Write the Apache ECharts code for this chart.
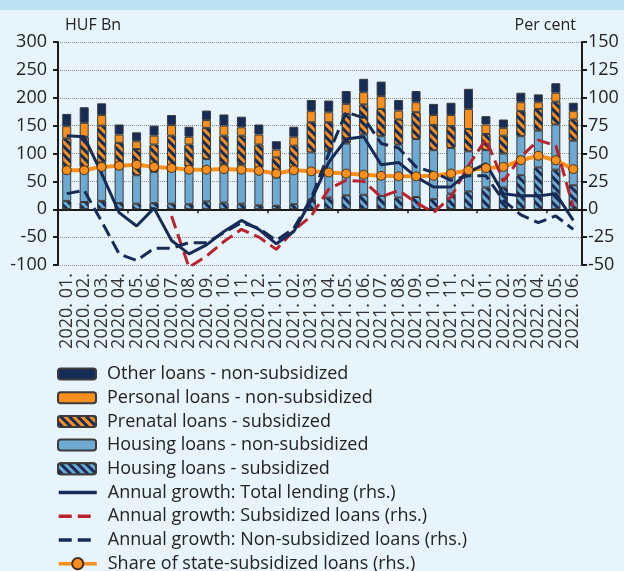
<!DOCTYPE html>
<html>
<head>
<meta charset="utf-8">
<script src="https://cdn.jsdelivr.net/npm/echarts@6/dist/echarts.min.js"></script>
<style>
  html, body { margin: 0; padding: 0; background: #E8F4FB; }
  #chart { width: 624px; height: 571px; }
</style>
</head>
<body>
<div id="chart"></div>
<script>
// months 2020.01 - 2022.06
const months = [
  '2020. 01.', '2020. 02.', '2020. 03.', '2020. 04.', '2020. 05.', '2020. 06.',
  '2020. 07.', '2020. 08.', '2020. 09.', '2020. 10.', '2020. 11.', '2020. 12.',
  '2021. 01.', '2021. 02.', '2021. 03.', '2021. 04.', '2021. 05.', '2021. 06.',
  '2021. 07.', '2021. 08.', '2021. 09.', '2021. 10.', '2021. 11.', '2021. 12.',
  '2022. 01.', '2022. 02.', '2022. 03.', '2022. 04.', '2022. 05.', '2022. 06.'
]

// HUF Bn (lhs)
const housingSub = [15, 13, 15, 11, 10, 11, 10, 9, 14, 12, 10, 7, 6, 9, 18, 21, 25, 26, 24, 21, 22, 18, 28, 32, 39, 39, 61, 75, 71, 43]
const housingNonSub = [60, 63, 69, 61, 51, 56, 67, 67, 76, 69, 71, 67, 51, 66, 84, 84, 93, 108, 107, 95, 104, 88, 82, 72, 67, 61, 70, 66, 81, 80]
const prenatal = [52, 54, 66, 47, 47, 49, 55, 40, 56, 51, 51, 42, 36, 39, 54, 51, 53, 54, 49, 45, 48, 45, 39, 40, 29, 32, 45, 39, 41, 38]
const personal = [22, 25, 19, 15, 14, 16, 19, 14, 14, 18, 15, 18, 14, 16, 20, 18, 18, 22, 23, 16, 18, 18, 20, 36, 17, 14, 16, 12, 16, 15]
const other = [22, 28, 21, 18, 16, 18, 18, 18, 17, 20, 19, 18, 15, 18, 20, 21, 23, 24, 26, 19, 20, 20, 22, 36, 15, 15, 17, 14, 17, 15]

// per cent (rhs)
const growthTotal = [66, 65, 32, -3, -15, 1, -28, -40, -32, -20, -10, -18, -31, -20, 8, 42, 63, 65, 40, 42, 29, 20, 20, 33, 41, 14, 12, 12, 14, -10]
const growthSub = [null, null, null, null, null, null, -6, -52, -42, -29, -18, -25, -36, -19, -6, 18, 26, 25, 11, 17, 6, -3, 11, 39, 63, 25, 47, 62, 57, 2]
const growthNonSub = [14, 17, -11, -40, -46, -35, -35, -30, -30, -21, -12, -17, -28, -17, 10, 50, 87, 82, 59, 55, 38, 33, 26, 30, 30, 8, -5, -12, -6, -18]
const shareSub = [35, 35, 38, 39, 40, 38, 37, 35.5, 35.5, 36, 35.5, 34.5, 32, 35, 34, 33, 32, 31, 30, 29.5, 29.5, 30, 32, 35, 37, 38, 44, 48, 44, 36]

const barNames = [
  'Other loans - non-subsidized',
  'Personal loans - non-subsidized',
  'Prenatal loans - subsidized',
  'Housing loans - non-subsidized',
  'Housing loans - subsidized'
]
const lineNames = [
  'Annual growth: Total lending (rhs.)',
  'Annual growth: Subsidized loans (rhs.)',
  'Annual growth: Non-subsidized loans (rhs.)',
  'Share of state-subsidized loans (rhs.)'
]

const NAVY = '#172B57'
const ORANGE = '#F7901E'
const LIGHTBLUE = '#6EA9D2'
const RED = '#B8232F'
const FONT = 'Open Sans'
const DASH = [13, 6]

const stripes = (color) => ({
  symbol: 'rect',
  symbolSize: 1,
  dashArrayX: [1, 0],
  dashArrayY: [3, 3],
  rotation: Math.PI / 4,
  color: color
})

const barStyle = (color, decal) => {
  const s = { color: color, borderColor: '#3b3b3b', borderWidth: 1 }
  if (decal) s.decal = decal
  return s
}

const legendBase = (top, itemHeight, lineHeight, items) => ({
  orient: 'vertical',
  left: 57,
  top: top,
  padding: 0,
  itemWidth: 38,
  itemHeight: itemHeight,
  itemGap: 5.7,
  lineStyle: { width: 3.5 },
  textStyle: { fontSize: 18, lineHeight: lineHeight, color: '#222', fontFamily: FONT, padding: [0, 0, 0, 6] },
  data: items
})

// growth lines: hide the marker in the legend icon, keep the line
const hiddenMarker = { color: 'rgba(0,0,0,0)', borderWidth: 0 }

const chart = echarts.init(document.getElementById('chart'))

const option = {
  backgroundColor: '#E8F4FB',
  animation: false,
  textStyle: { fontFamily: FONT },
  graphic: [
    { type: 'rect', left: 0, top: 0, shape: { width: 624, height: 10 }, style: { fill: '#BEE2F3' } },
    { type: 'text', left: 65, top: 17, style: { text: 'HUF Bn', font: '16px ' + FONT, fill: '#222' } },
    { type: 'text', right: 48, top: 17, style: { text: 'Per cent', font: '16px ' + FONT, fill: '#222' } }
  ],
  grid: { left: 58, right: 42, top: 42, bottom: 306 },
  legend: [
    legendBase(365, 11, 18, barNames),
    legendBase(483.5, 11, 18, [
      { name: lineNames[0], itemStyle: hiddenMarker },
      { name: lineNames[1], itemStyle: hiddenMarker },
      { name: lineNames[2], itemStyle: hiddenMarker }
    ]),
    legendBase(554.7, 14, 14, [lineNames[3]])
  ],
  xAxis: [
    {
      type: 'category',
      data: months,
      position: 'bottom',
      axisLine: { show: false, onZero: false },
      axisTick: { show: false },
      axisLabel: { rotate: 90, interval: 0, fontSize: 18, color: '#333', margin: 8 }
    },
    {
      type: 'category',
      data: months,
      position: 'top',
      axisLine: { show: true, onZero: true, onZeroAxisIndex: 0, lineStyle: { color: '#1a1a1a', width: 2 } },
      axisTick: { show: true, inside: true, length: 4, lineStyle: { color: '#1a1a1a', width: 1.5 } },
      axisLabel: { show: false }
    }
  ],
  yAxis: [
    {
      type: 'value',
      min: -100,
      max: 300,
      interval: 50,
      position: 'left',
      axisLine: { show: true, lineStyle: { color: '#1a1a1a', width: 2 } },
      axisTick: { show: true, length: 5, lineStyle: { color: '#1a1a1a', width: 2 } },
      axisLabel: { fontSize: 18, color: '#222', margin: 11 },
      splitLine: { show: true, lineStyle: { type: 'dotted', color: '#8a8a8a', width: 1 } }
    },
    {
      type: 'value',
      min: -50,
      max: 150,
      interval: 25,
      position: 'right',
      axisLine: { show: true, lineStyle: { color: '#1a1a1a', width: 2 } },
      axisTick: { show: true, length: 5, lineStyle: { color: '#1a1a1a', width: 2 } },
      axisLabel: { fontSize: 18, color: '#222', margin: 6 },
      splitLine: { show: false }
    }
  ],
  series: [
    { name: barNames[4], type: 'bar', stack: 'loans', barWidth: 9, data: housingSub, itemStyle: barStyle(NAVY, stripes(LIGHTBLUE)) },
    { name: barNames[3], type: 'bar', stack: 'loans', barWidth: 9, data: housingNonSub, itemStyle: barStyle(LIGHTBLUE) },
    { name: barNames[2], type: 'bar', stack: 'loans', barWidth: 9, data: prenatal, itemStyle: barStyle(NAVY, stripes(ORANGE)) },
    { name: barNames[1], type: 'bar', stack: 'loans', barWidth: 9, data: personal, itemStyle: barStyle(ORANGE) },
    { name: barNames[0], type: 'bar', stack: 'loans', barWidth: 9, data: other, itemStyle: barStyle(NAVY) },
    {
      name: lineNames[3], type: 'line', yAxisIndex: 1, data: shareSub,
      symbol: 'circle', symbolSize: 9,
      lineStyle: { color: ORANGE, width: 4 },
      itemStyle: { color: ORANGE, borderColor: '#4a3010', borderWidth: 1 }
    },
    {
      name: lineNames[1], type: 'line', yAxisIndex: 1, data: growthSub,
      symbol: 'none', connectNulls: false,
      lineStyle: { color: RED, width: 3, type: DASH },
      itemStyle: { color: RED }
    },
    {
      name: lineNames[2], type: 'line', yAxisIndex: 1, data: growthNonSub,
      symbol: 'none',
      lineStyle: { color: NAVY, width: 3, type: DASH },
      itemStyle: { color: NAVY }
    },
    {
      name: lineNames[0], type: 'line', yAxisIndex: 1, data: growthTotal,
      symbol: 'none',
      lineStyle: { color: NAVY, width: 3 },
      itemStyle: { color: NAVY }
    }
  ]
}

chart.setOption(option)
</script>
</body>
</html>
